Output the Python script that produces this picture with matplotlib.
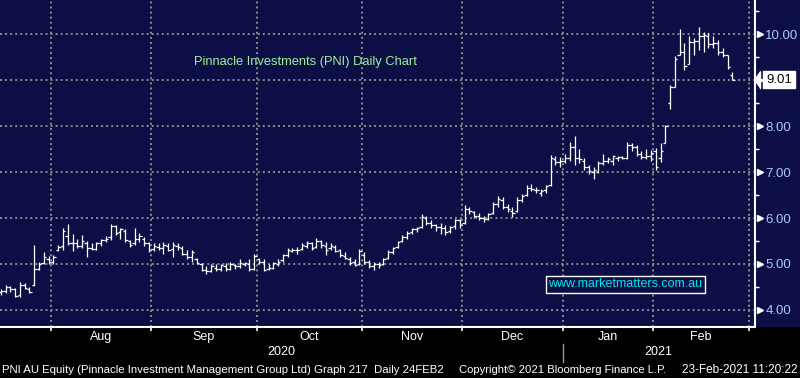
import matplotlib
matplotlib.use("Agg")
import matplotlib.pyplot as plt
import matplotlib.transforms as mtransforms
from matplotlib.patches import Rectangle
from matplotlib.lines import Line2D

# PNI daily bars, mid Jul 2020 .. 23 Feb 2021 (one block per month)
opens = [4.40, 4.42, 4.50, 4.45, 4.32, 4.55, 4.45, 4.55, 4.90, 5.02, 5.10,
         5.05, 5.30, 5.40, 5.60, 5.45, 5.45, 5.40, 5.45, 5.35, 5.32, 5.45, 5.52, 5.58, 5.82, 5.70, 5.72, 5.50, 5.45, 5.55, 5.55, 5.45,
         5.32, 5.38, 5.35, 5.40, 5.32, 5.40, 5.35, 5.22, 5.15, 5.10, 5.00, 4.88, 4.85, 4.92, 4.90, 4.95, 4.90, 4.98, 4.95, 5.00, 5.00, 4.90,
         5.10, 5.05, 4.90, 4.92, 5.00, 5.08, 5.20, 5.28, 5.30, 5.32, 5.40, 5.45, 5.38, 5.50, 5.40, 5.35, 5.38, 5.30, 5.18, 5.10, 5.05, 5.00,
         5.20, 5.05, 4.95, 5.00, 5.00, 5.12, 5.25, 5.38, 5.50, 5.58, 5.70, 5.75, 5.80, 6.00, 5.90, 5.85, 5.80, 5.78, 5.72, 5.82, 5.95,
         5.90, 6.20, 6.12, 6.05, 6.00, 5.98, 6.10, 6.30, 6.40, 6.25, 6.15, 6.15, 6.40, 6.50, 6.65, 6.60, 6.55, 6.60, 6.72, 7.28, 7.22,
         7.25, 7.30, 7.55, 7.30, 7.25, 7.10, 7.00, 7.00, 7.20, 7.25, 7.25, 7.30, 7.32, 7.30, 7.58, 7.55, 7.40, 7.32, 7.35,
         7.45, 7.30, 7.62, 8.50, 8.85, 9.55, 9.60, 9.35, 9.82, 9.85, 9.95, 9.95, 9.78, 9.80, 9.62, 9.55, 9.10]
highs = [4.45, 4.55, 4.52, 4.48, 4.60, 4.58, 4.50, 5.42, 5.05, 5.25, 5.18,
         5.20, 5.42, 5.78, 5.88, 5.65, 5.55, 5.63, 5.50, 5.45, 5.48, 5.55, 5.60, 5.86, 5.84, 5.78, 5.75, 5.52, 5.78, 5.68, 5.58, 5.48,
         5.45, 5.45, 5.48, 5.45, 5.48, 5.45, 5.40, 5.30, 5.30, 5.12, 5.02, 4.95, 5.00, 5.00, 5.00, 5.02, 5.05, 5.00, 5.10, 5.05, 5.10, 5.22,
         5.12, 5.10, 5.00, 5.05, 5.10, 5.22, 5.35, 5.35, 5.38, 5.45, 5.50, 5.48, 5.56, 5.52, 5.48, 5.45, 5.42, 5.32, 5.25, 5.15, 5.10, 5.32,
         5.25, 5.08, 5.05, 5.05, 5.12, 5.30, 5.38, 5.50, 5.62, 5.72, 5.78, 5.80, 6.08, 6.05, 5.95, 5.88, 5.90, 5.85, 5.82, 5.98, 5.98,
         6.28, 6.25, 6.15, 6.10, 6.05, 6.10, 6.35, 6.48, 6.45, 6.30, 6.25, 6.45, 6.52, 6.72, 6.75, 6.68, 6.62, 6.72, 7.38, 7.35, 7.32,
         7.40, 7.65, 7.78, 7.50, 7.30, 7.15, 7.10, 7.25, 7.40, 7.32, 7.38, 7.35, 7.35, 7.65, 7.62, 7.58, 7.45, 7.50, 7.48,
         7.52, 7.62, 8.02, 8.90, 9.52, 10.12, 9.80, 9.95, 9.92, 10.15, 10.05, 10.02, 9.95, 9.87, 9.70, 9.55, 9.18]
lows = [4.33, 4.38, 4.40, 4.28, 4.28, 4.45, 4.38, 4.52, 4.88, 5.00, 5.00,
        5.00, 5.28, 5.30, 5.42, 5.28, 5.35, 5.35, 5.15, 5.30, 5.30, 5.40, 5.48, 5.52, 5.62, 5.55, 5.48, 5.38, 5.42, 5.48, 5.40, 5.25,
        5.28, 5.30, 5.22, 5.28, 5.15, 5.30, 5.20, 5.10, 5.05, 5.00, 4.85, 4.78, 4.82, 4.85, 4.85, 4.85, 4.88, 4.90, 4.92, 4.95, 4.85, 4.88,
        5.00, 4.85, 4.88, 4.90, 4.95, 5.05, 5.15, 5.25, 5.22, 5.30, 5.35, 5.30, 5.35, 5.35, 5.20, 5.30, 5.25, 5.15, 5.10, 4.98, 4.95, 4.98,
        5.00, 4.92, 4.88, 4.92, 4.98, 5.10, 5.22, 5.35, 5.48, 5.55, 5.65, 5.70, 5.78, 5.85, 5.78, 5.72, 5.65, 5.62, 5.68, 5.75, 5.78,
        5.88, 6.08, 6.00, 5.95, 5.92, 5.95, 6.08, 6.25, 6.20, 6.12, 6.03, 6.12, 6.35, 6.48, 6.58, 6.55, 6.48, 6.55, 6.70, 7.15, 7.10,
        7.20, 7.25, 7.15, 7.20, 7.05, 6.95, 6.85, 6.98, 7.15, 7.20, 7.15, 7.25, 7.28, 7.28, 7.45, 7.35, 7.28, 7.28, 7.25,
        7.05, 7.22, 7.62, 8.38, 8.85, 9.55, 9.22, 9.35, 9.55, 9.65, 9.62, 9.70, 9.70, 9.55, 9.50, 9.25, 9.01]
closes = [4.42, 4.50, 4.45, 4.30, 4.55, 4.48, 4.40, 4.90, 5.00, 5.15, 5.05,
          5.15, 5.38, 5.72, 5.45, 5.45, 5.40, 5.50, 5.35, 5.32, 5.45, 5.52, 5.55, 5.82, 5.68, 5.75, 5.52, 5.42, 5.55, 5.60, 5.45, 5.30,
          5.40, 5.35, 5.42, 5.30, 5.42, 5.38, 5.22, 5.15, 5.25, 5.02, 4.88, 4.85, 4.95, 4.90, 4.98, 4.90, 5.00, 4.95, 5.02, 5.02, 4.90, 5.18,
          5.05, 4.88, 4.92, 5.02, 5.05, 5.20, 5.30, 5.30, 5.30, 5.42, 5.45, 5.35, 5.50, 5.42, 5.30, 5.40, 5.28, 5.20, 5.12, 5.02, 4.98, 5.28,
          5.05, 4.95, 5.00, 4.98, 5.10, 5.25, 5.35, 5.48, 5.58, 5.68, 5.75, 5.78, 6.02, 5.90, 5.85, 5.80, 5.78, 5.70, 5.80, 5.95, 5.85,
          6.20, 6.15, 6.05, 6.00, 5.98, 6.08, 6.30, 6.42, 6.25, 6.20, 6.10, 6.40, 6.48, 6.65, 6.62, 6.60, 6.58, 6.70, 7.30, 7.22, 7.25,
          7.30, 7.55, 7.30, 7.28, 7.10, 7.02, 7.05, 7.20, 7.25, 7.28, 7.35, 7.32, 7.30, 7.58, 7.55, 7.40, 7.32, 7.35, 7.42,
          7.10, 7.45, 8.00, 8.85, 9.45, 9.60, 9.30, 9.82, 9.85, 9.95, 9.98, 9.78, 9.80, 9.60, 9.55, 9.28, 9.01]

month_names = ['Aug', 'Sep', 'Oct', 'Nov', 'Dec', 'Jan', 'Feb']
month_starts = [11, 32, 54, 76, 97, 118, 137, 157]  # bar index of first trading day (last one = Mar)
year_start = 118  # Jan 2021
price_ticks = [4, 5, 6, 7, 8, 9, 10]
last_price = closes[-1]

navy = '#0e0e46'
grid_col = '#8c8c8c'
W, H = 800, 378


def fy(y):  # pixel row -> figure fraction
    return 1 - y / H


fig = plt.figure(figsize=(8, 3.78), dpi=100, facecolor='black')
fig.patches.append(Rectangle((0, fy(327)), 1, 327 / H, transform=fig.transFigure,
                             facecolor=navy, edgecolor='none', zorder=-5))
ax = fig.add_axes([0, fy(327), 755 / W, 327 / H])
ax.set_facecolor(navy)

# OHLC bars
xs = list(range(len(closes)))
ax.vlines(xs, lows, highs, color='white', lw=0.9, zorder=3)
ax.hlines(opens, [i - 0.5 for i in xs], xs, color='white', lw=0.9, zorder=3)
ax.hlines(closes, xs, [i + 0.5 for i in xs], color='white', lw=0.9, zorder=3)

# dotted grid
for v in price_ticks:
    ax.axhline(v, color=grid_col, lw=1.4, ls=(0, (1, 1.6)), zorder=1)
bounds = [m - 0.5 for m in month_starts]
for b in bounds:
    ax.axvline(b, color=grid_col, lw=1.4, ls=(0, (1, 1.6)), zorder=1)

ax.set_xlim(-0.17, 157.75)
ax.set_ylim(3.63, 10.74)

for s in ['left', 'top']:
    ax.spines[s].set_visible(False)
for s in ['bottom', 'right']:
    ax.spines[s].set_color('white')
    ax.spines[s].set_linewidth(1.5)

# x axis: ticks at month boundaries, names in between
ax.set_xticks(bounds)
ax.set_xticklabels([])
ax.tick_params(axis='x', colors='white', length=3, width=1.2, direction='out')
xfig = mtransforms.blended_transform_factory(ax.transData, fig.transFigure)
for k, name in enumerate(month_names):
    ax.text((bounds[k] + bounds[k + 1]) / 2, fy(337), name, transform=xfig,
            color='white', fontsize=9, ha='center', va='center', family='Liberation Sans')

x0, x1 = ax.get_xlim()
ax.text((x0 + year_start - 0.5) / 2, fy(352), '2020', transform=xfig, color='white',
        fontsize=9, ha='center', va='center', family='Liberation Sans')
ax.text((year_start - 0.5 + x1) / 2, fy(352), '2021', transform=xfig, color='white',
        fontsize=9, ha='center', va='center', family='Liberation Sans')
fig.add_artist(Line2D([year_start - 0.5] * 2, [fy(344), fy(362)], transform=xfig,
                      color='#9a9a9a', lw=1))

# right price axis
ax.yaxis.tick_right()
ax.set_yticks(price_ticks)
ax.set_yticklabels(['' if v == 9 else '%.2f' % v for v in price_ticks])
ax.set_yticks([v + 0.5 for v in price_ticks], minor=True)
ax.tick_params(axis='y', which='major', length=0, pad=7.5, labelcolor='#aac8ff', labelsize=9.5)
ax.tick_params(axis='y', which='minor', length=3, width=1, color='white', direction='out')
for lab in ax.get_yticklabels():
    lab.set_family('Liberation Sans')

yax = mtransforms.blended_transform_factory(ax.transAxes, ax.transData)
tri = yax + mtransforms.ScaledTranslation(4.5 / 100, 0, fig.dpi_scale_trans)
ax.plot([1] * len(price_ticks), price_ticks, transform=tri, ls='none', marker='>',
        ms=5, color='white', clip_on=False, zorder=5)

# last price tag
tagpt = yax + mtransforms.ScaledTranslation(5 / 100, 0, fig.dpi_scale_trans)
ax.plot([1], [last_price], transform=tagpt, ls='none', color='white', clip_on=False,
        marker=[(-6, 0), (0, 8.5), (0, -8.5)], ms=12.5, zorder=6)
ax.text(1, last_price, '%.2f' % last_price, color='black', fontsize=9.5, va='center', ha='left',
        family='Liberation Sans', clip_on=False, zorder=7,
        transform=yax + mtransforms.ScaledTranslation(11 / 100, 0, fig.dpi_scale_trans),
        bbox=dict(boxstyle='square,pad=0.22', facecolor='white', edgecolor='white'))

# titles and footer
fig.text(194 / W, fy(62), 'Pinnacle Investments (PNI) Daily Chart', color='#9cf09c',
         fontsize=9.25, ha='left', va='center', family='Liberation Sans')
fig.text(625 / W, fy(284), 'www.marketmatters.com.au', color='#00e6ee', fontsize=9,
         ha='center', va='center', family='Liberation Sans',
         bbox=dict(boxstyle='square,pad=0.2', facecolor=navy, edgecolor='white', lw=1))
fig.text(2 / W, fy(370), 'PNI AU Equity (Pinnacle Investment Management Group Ltd) Graph 217  Daily 24FEB2',
         color='white', fontsize=8.2, ha='left', va='center', family='Liberation Sans')
fig.text(459 / W, fy(370), 'Copyright\u00a9 2021 Bloomberg Finance L.P.', color='white',
         fontsize=8.1, ha='left', va='center', family='Liberation Sans')
fig.text(798 / W, fy(370), '23-Feb-2021 11:20:22', color='white', fontsize=8.5,
         ha='right', va='center', family='Liberation Sans')

fig.savefig('out.png', dpi=100, facecolor='black')
